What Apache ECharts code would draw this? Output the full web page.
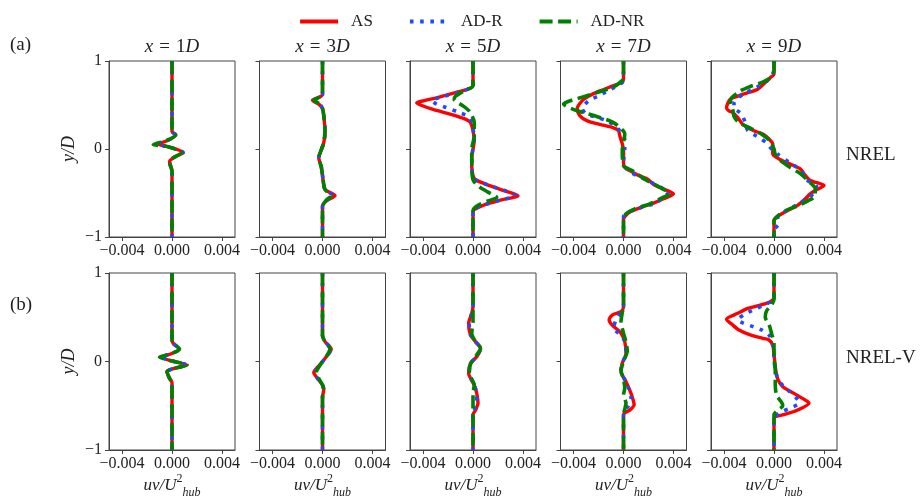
<!DOCTYPE html>
<html><head><meta charset="utf-8">
<script src="https://cdn.jsdelivr.net/npm/echarts@6/dist/echarts.min.js"></script>
<style>html,body{margin:0;padding:0;background:#fff}#c{width:921px;height:501px}</style>
</head><body><div id="c"></div>
<script>
// ---------- data ----------
const seriesNames = ['AS', 'AD-R', 'AD-NR'];
const stations = ['1', '3', '5', '7', '9'];
const rowLabels = ['(a)', '(b)'];
const turbines = ['NREL', 'NREL-V'];
const xTicks = [-0.004, 0, 0.004];
const xRange = [-0.00504, 0.00504];
const yRange = [-1, 1];

// each point: [uv/U_hub^2, y/D]
// Row (a) NREL
const a1_AS   = [[0,1],[0,0.2],[0.0003,0.16],[-0.0003,0.1],[-0.0011,0.055],[-0.0003,0.025],[0.0009,-0.04],[0.0001,-0.1],[-0.0002,-0.145],[-0.0001,-0.2],[0,-0.25],[0,-1]];
const a1_ADR  = [[0,1],[0,0.2],[0.0003,0.16],[-0.0003,0.1],[-0.0012,0.055],[-0.0003,0.025],[0.0009,-0.04],[0.0001,-0.1],[-0.0002,-0.145],[-0.0001,-0.2],[0,-0.25],[0,-1]];
const a1_ADNR = [[0,1],[0,0.2],[0.0003,0.16],[-0.0004,0.1],[-0.0015,0.05],[-0.0003,0.025],[0.0008,-0.04],[0.0001,-0.1],[-0.0002,-0.145],[-0.0001,-0.2],[0,-0.25],[0,-1]];

const a2_AS   = [[0,1],[0,0.62],[-0.0003,0.585],[-0.0008,0.555],[-0.0003,0.51],[0,0.46],[0.0001,0.38],[0.0002,0.2],[0.0001,0.07],[-0.0001,-0.01],[-0.0003,-0.1],[-0.0001,-0.2],[0,-0.3],[0.0002,-0.46],[0.001,-0.53],[0.0004,-0.58],[0,-0.65],[0,-1]];
const a2_ADR  = [[0,1],[0,0.62],[-0.0002,0.585],[-0.0006,0.555],[-0.0002,0.51],[0,0.46],[0.0001,0.38],[0.0002,0.2],[0.0001,0.07],[-0.0001,-0.01],[-0.0003,-0.1],[-0.0001,-0.2],[0,-0.3],[0.0002,-0.46],[0.0009,-0.53],[0.0004,-0.58],[0,-0.65],[0,-1]];
const a2_ADNR = [[0,1],[0,0.62],[-0.0003,0.585],[-0.0007,0.555],[-0.0002,0.51],[0,0.46],[0.0001,0.38],[0.0002,0.2],[0.0001,0.07],[-0.0001,-0.01],[-0.0003,-0.1],[-0.0001,-0.2],[0,-0.3],[0.0002,-0.46],[0.0007,-0.53],[0.0003,-0.58],[0,-0.65],[0,-1]];

const a3_AS   = [[0,1],[0,0.73],[-0.0002,0.69],[-0.0014,0.64],[-0.0027,0.59],[-0.0039,0.55],[-0.0045,0.525],[-0.0042,0.5],[-0.0032,0.45],[-0.0019,0.4],[-0.0008,0.35],[-0.0002,0.3],[0.0001,0.1],[-0.0001,-0.1],[-0.0001,-0.2],[0,-0.3],[0.0002,-0.35],[0.0014,-0.42],[0.0024,-0.47],[0.0036,-0.53],[0.0022,-0.58],[0.0008,-0.64],[0.0001,-0.69],[0,-0.72],[0,-1]];
const a3_ADR  = [[0,1],[0,0.73],[-0.0002,0.69],[-0.0013,0.64],[-0.0025,0.59],[-0.0033,0.55],[-0.0029,0.51],[-0.0021,0.47],[-0.0012,0.42],[-0.0004,0.37],[-0.0001,0.3],[0.0001,0.1],[-0.0001,-0.1],[-0.0001,-0.2],[0,-0.3],[0.0002,-0.35],[0.0014,-0.42],[0.0025,-0.47],[0.0034,-0.53],[0.0022,-0.58],[0.0008,-0.64],[0,-0.7],[0,-1]];
const a3_ADNR = [[0,1],[0,0.72],[-0.0006,0.67],[-0.0014,0.6],[-0.0015,0.56],[-0.0009,0.5],[-0.0003,0.43],[0.0001,0.3],[0.0001,0.15],[-0.0001,0],[-0.0001,-0.2],[0,-0.35],[0.0004,-0.42],[0.0012,-0.49],[0.0019,-0.55],[0.0012,-0.59],[0.0004,-0.64],[0,-0.7],[0,-1]];

const a4_AS   = [[0,1],[0,0.8],[-0.0001,0.76],[-0.0008,0.72],[-0.0019,0.66],[-0.0028,0.6],[-0.0033,0.55],[-0.0037,0.46],[-0.0035,0.38],[-0.0029,0.32],[-0.0019,0.28],[-0.0009,0.245],[-0.0004,0.21],[-0.0003,0.15],[-0.0001,0.06],[0,-0.01],[0,-0.15],[0.0001,-0.21],[0.0005,-0.245],[0.0012,-0.3],[0.0019,-0.34],[0.0024,-0.4],[0.0031,-0.45],[0.004,-0.51],[0.0032,-0.566],[0.0024,-0.615],[0.0015,-0.66],[0.0005,-0.717],[0.0001,-0.77],[0,-0.8],[0,-1]];
const a4_ADR  = [[0,1],[0,0.8],[-0.0001,0.755],[-0.001,0.68],[-0.002,0.604],[-0.0028,0.547],[-0.0033,0.46],[-0.003,0.4],[-0.0021,0.358],[-0.0013,0.32],[-0.0007,0.264],[-0.0003,0.207],[0.0001,0.11],[0.0001,0],[0,-0.15],[0.0004,-0.25],[0.0012,-0.31],[0.0021,-0.37],[0.0029,-0.43],[0.0036,-0.49],[0.0031,-0.56],[0.0025,-0.62],[0.0014,-0.665],[0.0004,-0.72],[0,-0.77],[0,-1]];
const a4_ADNR = [[0,1],[0,0.8],[-0.0003,0.755],[-0.0008,0.705],[-0.0017,0.66],[-0.0033,0.59],[-0.0048,0.51],[-0.0037,0.434],[-0.0023,0.377],[-0.0008,0.3],[0.0001,0.17],[-0.0001,-0.02],[0,-0.19],[0.0007,-0.245],[0.0019,-0.36],[0.0029,-0.434],[0.0037,-0.51],[0.0032,-0.547],[0.0021,-0.623],[0.0009,-0.68],[0.0002,-0.736],[0,-0.79],[0,-1]];

const a5_AS   = [[0,1],[0,0.9],[0,0.85],[-0.0003,0.81],[-0.0007,0.755],[-0.0013,0.68],[-0.0021,0.64],[-0.0029,0.6],[-0.0035,0.566],[-0.0038,0.47],[-0.0036,0.434],[-0.0033,0.415],[-0.0029,0.358],[-0.0025,0.28],[-0.0016,0.207],[-0.0009,0.17],[-0.0004,0.113],[-0.0001,0.057],[-0.0001,-0.057],[0.0004,-0.113],[0.0013,-0.17],[0.0021,-0.226],[0.0025,-0.3],[0.0029,-0.358],[0.004,-0.415],[0.0033,-0.47],[0.0029,-0.51],[0.0025,-0.566],[0.0019,-0.64],[0.0011,-0.698],[0.0004,-0.755],[0,-0.81],[0,-1]];
const a5_ADR  = [[0,1],[0,0.92],[-0.0001,0.85],[-0.0006,0.77],[-0.0014,0.7],[-0.0025,0.62],[-0.0032,0.53],[-0.0032,0.47],[-0.0026,0.4],[-0.0023,0.3],[-0.0021,0.21],[-0.0012,0.13],[-0.0006,0.07],[-0.0002,0],[0.0003,-0.06],[0.0012,-0.15],[0.0022,-0.25],[0.0026,-0.35],[0.0034,-0.42],[0.0033,-0.48],[0.0028,-0.55],[0.002,-0.62],[0.001,-0.7],[0.0003,-0.78],[0.0004,-0.85],[0,-0.92],[0,-1]];
const a5_ADNR = [[0,1],[0,0.9],[-0.0002,0.82],[-0.0009,0.76],[-0.0019,0.71],[-0.0027,0.66],[-0.0034,0.58],[-0.0035,0.53],[-0.0033,0.45],[-0.0032,0.37],[-0.0028,0.3],[-0.0018,0.23],[-0.0009,0.16],[-0.0003,0.09],[0,0],[0.0001,-0.06],[0.0005,-0.13],[0.0013,-0.21],[0.0021,-0.28],[0.0028,-0.37],[0.0033,-0.45],[0.0033,-0.53],[0.0027,-0.59],[0.002,-0.64],[0.0011,-0.69],[0.0003,-0.76],[0,-0.82],[0,-1]];

// Row (b) NREL-V
const b1_AS   = [[0,1],[0,0.25],[0.0001,0.205],[0.0006,0.14],[-0.0001,0.085],[-0.0009,0.05],[0,0.006],[0.0012,-0.04],[0.0002,-0.077],[-0.0004,-0.115],[-0.0002,-0.19],[0,-0.24],[0,-1]];
const b1_ADR  = [[0,1],[0,0.25],[0.0001,0.205],[0.0006,0.14],[-0.0001,0.085],[-0.0009,0.05],[0,0.006],[0.0012,-0.04],[0.0002,-0.077],[-0.0004,-0.115],[-0.0002,-0.19],[0,-0.24],[0,-1]];
const b1_ADNR = [[0,1],[0,0.25],[0.0001,0.205],[0.0006,0.14],[-0.0001,0.085],[-0.001,0.05],[0,0.006],[0.0012,-0.04],[0.0002,-0.077],[-0.0004,-0.115],[-0.0002,-0.19],[0,-0.24],[0,-1]];

const b2_AS   = [[0,1],[0,0.29],[0.0002,0.224],[0.0007,0.14],[0.0003,0.054],[-0.0001,-0.02],[-0.0007,-0.125],[-0.0004,-0.19],[0,-0.266],[0.0001,-0.32],[0,-0.4],[0,-1]];
const b2_ADR  = [[0,1],[0,0.29],[0.0002,0.224],[0.0007,0.14],[0.0003,0.054],[-0.0001,-0.02],[-0.0006,-0.125],[-0.0004,-0.19],[0,-0.266],[0.0001,-0.32],[0,-0.4],[0,-1]];
const b2_ADNR = [[0,1],[0,0.29],[0.0002,0.224],[0.0006,0.14],[0.0003,0.054],[-0.0001,-0.02],[-0.0005,-0.125],[-0.0003,-0.19],[0,-0.266],[0.0001,-0.32],[0,-0.4],[0,-1]];

const b3_AS   = [[0,1],[0,0.62],[-0.0001,0.545],[-0.00035,0.43],[-0.0002,0.3],[0.0002,0.224],[0.0006,0.15],[0.0003,0.054],[-0.0002,-0.02],[-0.00035,-0.134],[0.0001,-0.266],[0.0003,-0.36],[0.0004,-0.47],[0.0002,-0.55],[0,-0.6],[0,-1]];
const b3_ADR  = [[0,1],[0,0.62],[-0.0001,0.545],[-0.0003,0.43],[-0.0002,0.3],[0.0002,0.224],[0.0006,0.15],[0.0003,0.054],[-0.0002,-0.02],[-0.0003,-0.134],[0.0001,-0.266],[0.0003,-0.36],[0.0003,-0.47],[0.0001,-0.55],[0,-0.6],[0,-1]];
const b3_ADNR = [[0,1],[0,0.6],[0,0.45],[-0.0001,0.32],[0.0002,0.224],[0.0006,0.15],[0.0002,0.054],[-0.0002,-0.03],[-0.0003,-0.134],[0.0001,-0.266],[0,-0.36],[0,-0.47],[0,-1]];

const b4_AS   = [[0,1],[0,0.62],[-0.0002,0.563],[-0.0009,0.525],[-0.00115,0.47],[-0.0009,0.412],[-0.0002,0.32],[0.0001,0.224],[0.0002,0.09],[-0.0001,-0.02],[-0.0002,-0.115],[0.0002,-0.228],[0.0006,-0.36],[0.00085,-0.49],[0.0005,-0.55],[0.00005,-0.585],[0,-0.62],[0,-1]];
const b4_ADR  = [[0,1],[0,0.62],[-0.0002,0.56],[-0.0006,0.47],[-0.0008,0.375],[-0.0002,0.3],[0.0001,0.224],[0.0002,0.09],[-0.0001,-0.02],[-0.0002,-0.115],[0.0002,-0.228],[0.0004,-0.3],[0.0006,-0.41],[0.0004,-0.5],[0,-0.58],[0,-1]];
const b4_ADNR = [[0,1],[0,0.62],[-0.0001,0.55],[-0.0002,0.45],[0,0.32],[0.0002,0.22],[0.0003,0.12],[0,0],[-0.0002,-0.1],[0,-0.2],[0.0001,-0.3],[0,-0.38],[0.0002,-0.47],[0.0001,-0.54],[0,-0.6],[0,-1]];

const b5_AS   = [[0,1],[0,0.72],[-0.0003,0.676],[-0.0011,0.638],[-0.0021,0.6],[-0.0029,0.544],[-0.0038,0.477],[-0.0033,0.412],[-0.0028,0.356],[-0.0019,0.3],[-0.0009,0.262],[-0.0004,0.243],[-0.0001,0.186],[0,0.09],[0.0001,-0.06],[0.0003,-0.2],[0.0007,-0.285],[0.0016,-0.36],[0.0027,-0.454],[0.0028,-0.472],[0.0019,-0.548],[0.0008,-0.6],[0.0001,-0.623],[0,-0.65],[0,-1]];
const b5_ADR  = [[0,1],[0,0.72],[-0.0002,0.68],[-0.0009,0.63],[-0.0017,0.58],[-0.0024,0.53],[-0.0029,0.47],[-0.0024,0.43],[-0.0016,0.39],[-0.0009,0.35],[-0.0003,0.28],[-0.0001,0.18],[0,0.05],[0.0001,-0.1],[0.0004,-0.22],[0.0011,-0.32],[0.0019,-0.43],[0.002,-0.47],[0.0014,-0.52],[0.0006,-0.57],[0.0001,-0.62],[0,-0.65],[0,-1]];
const b5_ADNR = [[0,1],[0,0.7],[-0.0002,0.64],[-0.0006,0.57],[-0.0007,0.5],[-0.0004,0.42],[-0.0002,0.32],[0,0.2],[0,0.05],[0.0001,-0.1],[0.0001,-0.25],[0.0002,-0.38],[0.0006,-0.46],[0.0007,-0.5],[0.0003,-0.55],[0,-0.6],[0,-1]];

// ---------- layout / style ----------
const panels = [
  [[a1_AS, a1_ADR, a1_ADNR], [a2_AS, a2_ADR, a2_ADNR], [a3_AS, a3_ADR, a3_ADNR], [a4_AS, a4_ADR, a4_ADNR], [a5_AS, a5_ADR, a5_ADNR]],
  [[b1_AS, b1_ADR, b1_ADNR], [b2_AS, b2_ADR, b2_ADNR], [b3_AS, b3_ADR, b3_ADNR], [b4_AS, b4_ADR, b4_ADNR], [b5_AS, b5_ADR, b5_ADNR]]
];
const FONT = 'Liberation Serif';
const colLeft0 = 109, colStep = 150.5, colW = 126;
const rowTop = [61, 273], rowH = [176, 177];
const lineStyles = [
  { color: '#ff0000', width: 3.4, type: 'solid' },
  { color: '#1f4bff', width: 3.6, type: [3.6, 6.6] },
  { color: '#008000', width: 3.6, type: [13, 5.5] }
];
const AX = '#444';
const minus = v => (v < 0 ? '\u2212' : '');
const fmtX = v => minus(v) + Math.abs(v).toFixed(3);
const fmtY = v => minus(v) + Math.abs(v);

const grid = [], xAxis = [], yAxis = [], series = [], graphic = [];
let k = 0;
for (let r = 0; r < 2; r++) {
  for (let c = 0; c < 5; c++) {
    const left = colLeft0 + c * colStep;
    grid.push({ left: left, top: rowTop[r], width: colW, height: rowH[r], show: true, borderColor: AX, borderWidth: 1, containLabel: false });
    xAxis.push({
      gridIndex: k, type: 'value', min: xRange[0], max: xRange[1],
      axisLine: { show: true, onZero: false, lineStyle: { color: AX, width: 1 } },
      axisTick: { show: true, customValues: xTicks, length: 4, lineStyle: { color: AX } },
      axisLabel: { show: true, customValues: xTicks, formatter: fmtX, fontFamily: FONT, fontSize: 16, color: '#222', margin: 6 },
      splitLine: { show: false },
      name: r === 1 ? '{i|uv/U}{sup|2}{sub|hub}' : '',
      nameLocation: 'middle', nameGap: 23,
      nameTextStyle: {
        color: '#222',
        rich: {
          i: { fontFamily: FONT, fontStyle: 'italic', fontSize: 17, color: '#222', lineHeight: 26, verticalAlign: 'middle' },
          sup: { fontFamily: FONT, fontSize: 12, color: '#222', lineHeight: 26, verticalAlign: 'top' },
          sub: { fontFamily: FONT, fontStyle: 'italic', fontSize: 12, color: '#222', lineHeight: 26, verticalAlign: 'bottom' }
        }
      }
    });
    yAxis.push({
      gridIndex: k, type: 'value', min: yRange[0], max: yRange[1], interval: 1,
      axisLine: { show: true, onZero: false, lineStyle: { color: AX, width: 1 } },
      axisTick: { show: true, length: 4, lineStyle: { color: AX } },
      axisLabel: { show: c === 0, formatter: fmtY, fontFamily: FONT, fontSize: 16, color: '#222', margin: 7 },
      splitLine: { show: false },
      name: c === 0 ? 'y/D' : '', nameLocation: 'middle', nameGap: 31,
      nameTextStyle: { fontFamily: FONT, fontStyle: 'italic', fontSize: 18, color: '#222' }
    });
    panels[r][c].forEach((data, s) => {
      series.push({
        type: 'line', name: seriesNames[s], xAxisIndex: k, yAxisIndex: k,
        data: data, symbol: 'none', smooth: 0.25, silent: true, z: 2 + s,
        color: lineStyles[s].color,
        lineStyle: { color: lineStyles[s].color, width: lineStyles[s].width, type: lineStyles[s].type, cap: 'butt', join: 'round' }
      });
    });
    if (r === 0) {
      graphic.push({
        type: 'text', x: left + colW / 2, y: 47,
        style: {
          text: '{i|x}{e|=}{n|' + stations[c] + '}{i|D}', align: 'center', verticalAlign: 'middle',
          rich: {
            i: { fontFamily: FONT, fontStyle: 'italic', fontSize: 19, fill: '#222' },
            e: { fontFamily: FONT, fontSize: 19, fill: '#222', padding: [0, 6, 0, 6] },
            n: { fontFamily: FONT, fontSize: 19, fill: '#222' }
          }
        }
      });
    }
    k++;
  }
}
graphic.push({ type: 'text', x: 10, y: 45, style: { text: rowLabels[0], font: '19px "' + FONT + '"', fill: '#222', align: 'left', verticalAlign: 'middle' } });
graphic.push({ type: 'text', x: 10, y: 305, style: { text: rowLabels[1], font: '19px "' + FONT + '"', fill: '#222', align: 'left', verticalAlign: 'middle' } });
graphic.push({ type: 'text', x: 846, y: 155, style: { text: turbines[0], font: '19px "' + FONT + '"', fill: '#222', align: 'left', verticalAlign: 'middle' } });
graphic.push({ type: 'text', x: 846, y: 358, style: { text: turbines[1], font: '19px "' + FONT + '"', fill: '#222', align: 'left', verticalAlign: 'middle' } });

const chart = echarts.init(document.getElementById('c'), null, { renderer: 'canvas' });
chart.setOption({
  animation: false,
  backgroundColor: '#fff',
  legend: {
    data: seriesNames, top: 8, left: 293, itemWidth: 38, itemHeight: 14, itemGap: 35,
    itemStyle: { opacity: 0 },
    lineStyle: { width: 4.2 },
    textStyle: { fontFamily: FONT, fontSize: 17, color: '#222', padding: [0, 0, 0, 8] }
  },
  grid: grid, xAxis: xAxis, yAxis: yAxis, series: series, graphic: graphic
});
</script></body></html>
